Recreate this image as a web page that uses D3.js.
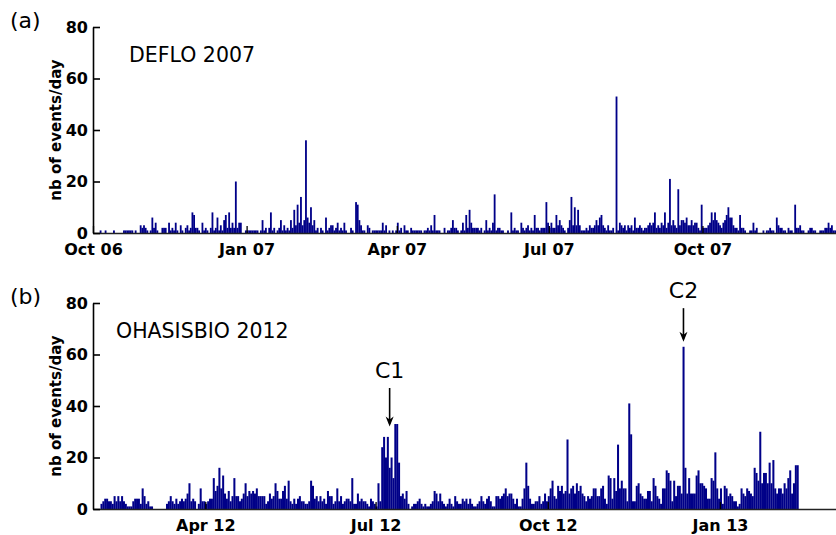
<!DOCTYPE html>
<html>
<head>
<meta charset="utf-8">
<script src="https://cdn.jsdelivr.net/npm/d3@7"></script>
<style>
  html, body { margin: 0; padding: 0; background: #fff; }
  svg { display: block; }
  .tick text { font-family: "DejaVu Sans", sans-serif; font-weight: bold; font-size: 16px; fill: #000; }
</style>
</head>
<body>
<svg id="chart" width="836" height="535"></svg>
<script>
// ---------------- data ----------------
const startA = "2006-10-01";
const endA = "2007-12-20";
const countsA = [
  0,0,0,0,1,0,0,1,0,0,
  0,0,1,0,0,0,0,0,1,1,
  1,1,1,1,0,1,0,0,3,2,
  3,2,1,0,1,6,2,4,1,0,
  0,2,2,2,0,4,1,2,1,4,
  1,0,3,1,0,2,3,1,2,8,
  7,2,2,1,0,4,1,2,1,0,
  2,8,1,2,6,1,3,1,5,7,
  2,8,2,4,2,20,2,4,4,0,
  0,1,1,1,1,1,1,1,1,0,
  1,5,1,2,0,2,8,1,2,0,
  1,2,5,1,3,1,2,1,5,2,
  9,3,11,4,14,3,5,36,6,4,
  10,3,5,1,2,0,2,1,0,6,
  1,2,3,3,1,2,4,1,2,1,
  4,1,0,0,2,1,0,12,11,5,
  3,1,1,0,3,2,0,1,1,1,
  1,1,1,4,1,3,0,1,0,1,
  0,1,4,1,2,0,3,1,1,0,
  2,1,1,1,1,1,1,0,1,1,
  2,1,3,1,7,1,1,1,0,0,
  2,0,1,1,2,5,2,2,1,0,
  1,4,1,7,2,9,4,2,2,2,
  2,1,2,0,1,5,1,2,1,4,
  15,1,2,2,1,1,0,0,1,0,
  8,1,2,1,1,0,4,2,1,2,
  3,1,2,1,7,2,2,1,2,2,
  2,12,4,2,4,2,2,7,3,5,
  3,2,1,0,2,5,14,3,10,3,
  9,3,1,1,1,2,1,3,2,2,
  3,5,3,6,7,3,2,1,3,1,
  1,2,0,53,1,4,3,2,3,1,
  3,2,3,1,6,2,2,3,2,1,
  2,2,3,4,3,4,8,2,3,2,
  4,3,8,2,4,21,3,5,3,2,
  17,3,5,5,4,6,3,3,5,3,
  4,4,2,1,11,2,2,2,3,4,
  8,5,8,5,4,3,2,4,5,7,
  10,6,6,3,2,2,1,7,2,2,
  1,0,0,1,1,4,1,2,0,0,
  0,1,0,1,1,2,1,1,0,6,
  3,2,2,1,1,0,2,1,1,0,
  11,2,2,3,1,1,0,0,1,2,
  2,1,1,0,0,1,1,1,2,2,
  4,2,3,1,1
];
const xTicksA = ["2006-10-01","2007-01-01","2007-04-01","2007-07-01","2007-10-01"];
const xLabelsA = ["Oct 06","Jan 07","Apr 07","Jul 07","Oct 07"];

const startB = "2012-02-01";
const endB = "2013-03-04";
const countsB = [
  0,0,0,0,2,3,4,4,3,3,
  2,5,3,5,3,5,3,2,1,1,
  1,3,4,4,4,2,8,5,2,3,
  1,1,0,0,0,0,0,0,0,2,
  3,5,3,2,4,2,3,4,3,4,
  6,10,3,4,3,0,2,8,3,3,
  2,3,4,4,12,7,9,16,8,13,
  6,4,7,3,5,12,5,5,3,4,
  6,10,5,7,6,7,6,8,5,5,
  5,5,2,3,6,4,5,10,7,4,
  4,7,9,4,11,3,2,4,2,4,
  5,3,3,2,2,3,11,9,4,5,
  3,5,3,4,2,7,5,5,2,3,
  8,3,5,2,3,4,4,3,12,2,
  2,6,3,4,3,3,2,1,4,3,
  2,1,10,3,24,28,20,28,16,20,
  12,33,33,18,5,6,4,7,2,0,
  1,2,2,3,4,2,1,2,1,1,
  2,3,7,6,3,6,3,2,1,2,
  4,2,1,5,3,2,2,4,3,4,
  2,4,2,1,1,2,3,5,3,2,
  4,5,3,1,1,5,5,4,5,6,
  8,5,6,6,4,2,4,1,1,4,
  8,18,9,4,2,2,3,3,5,2,
  3,6,3,5,8,11,5,4,9,7,
  9,6,7,27,6,8,9,6,10,7,
  9,6,5,3,5,4,5,8,8,5,
  5,8,9,4,2,13,12,4,12,7,
  25,8,11,8,8,3,41,29,3,3,
  9,10,6,5,4,4,7,7,3,12,
  9,5,4,2,8,8,15,14,11,3,
  11,5,9,9,6,63,16,6,12,6,
  6,6,13,15,10,10,9,8,4,4,
  12,11,22,8,4,8,2,9,8,5,
  6,5,3,3,1,2,8,6,5,8,
  7,6,5,16,14,11,30,10,14,14,
  10,18,10,19,8,6,8,8,6,10,
  8,12,15,6,10,17,17
];
const xTicksB = ["2012-04-01","2012-07-01","2012-10-01","2013-01-01"];
const xLabelsB = ["Apr 12","Jul 12","Oct 12","Jan 13"];

const yTicks = [0, 20, 40, 60, 80];
const yLabel = "nb of events/day";
const panelLetters = ["(a)", "(b)"];
const panelTitles = ["DEFLO 2007", "OHASISBIO 2012"];
// annotations for panel b: date of pointed event, arrow from value `from` to value `to`
const annoLabels = ["C1", "C2"];
const annoDates = ["2012-07-08T12:00:00Z", "2012-12-12T12:00:00Z"];
const annoFrom = [47, 78];
const annoTo = [32, 65];
const annoText = [51, 82];

// ---------------- drawing ----------------
const svg = d3.select("#chart");
const parse = d3.utcParse("%Y-%m-%d");
const barColor = "#000088";

function drawPanel(cfg) {
  const start = parse(cfg.start), end = parse(cfg.end);
  const x = d3.scaleUtc().domain([start, end]).range([cfg.left, cfg.right]);
  const y = d3.scaleLinear().domain([0, 80]).range([cfg.bottom, cfg.top]);
  const g = svg.append("g");

  const rows = cfg.counts.map((v, i) => ({ date: d3.utcDay.offset(start, i), v }));
  g.append("g").selectAll("rect").data(rows.filter(r => r.v > 0)).join("rect")
    .attr("x", d => x(d.date))
    .attr("width", d => x(d3.utcDay.offset(d.date, 1)) - x(d.date) + 0.15)
    .attr("y", d => y(d.v))
    .attr("height", d => y(0) - y(d.v))
    .attr("fill", barColor);

  // x axis
  const xa = g.append("g").attr("transform", `translate(0,${cfg.bottom})`)
    .call(d3.axisBottom(x)
      .tickValues(cfg.xTicks.map(parse))
      .tickFormat((d, i) => cfg.xLabels[i])
      .tickSizeInner(-7).tickSizeOuter(0).tickPadding(8));
  xa.select(".domain").attr("stroke", "#222").attr("stroke-width", 1.3);
  xa.selectAll(".tick line").attr("stroke", "#000").attr("stroke-width", 1.3);
  xa.selectAll(".tick text").attr("dy", "0.85em");

  // y axis
  const ya = g.append("g").attr("transform", `translate(${cfg.left},0)`)
    .call(d3.axisLeft(y).tickValues(yTicks).tickFormat(d3.format("d"))
      .tickSizeInner(-7).tickSizeOuter(0).tickPadding(5));
  ya.select(".domain").attr("stroke", "#000").attr("stroke-width", 1.6);
  ya.selectAll(".tick line").attr("stroke", "#000").attr("stroke-width", 1.6);

  // y label
  g.append("text")
    .attr("transform", `translate(${cfg.left - 32},${(cfg.top + cfg.bottom) / 2}) rotate(-90)`)
    .attr("text-anchor", "middle")
    .style("font-family", "DejaVu Sans, sans-serif").style("font-weight", "bold")
    .style("font-size", "15px")
    .text(yLabel);

  // panel letter
  g.append("text").attr("x", 10).attr("y", cfg.top + 1)
    .style("font-family", "DejaVu Sans, sans-serif").style("font-size", "22px")
    .text(cfg.letter);

  // title
  g.append("text").attr("x", cfg.titleX).attr("y", cfg.top + 35)
    .style("font-family", "DejaVu Sans, sans-serif").style("font-size", "20.5px")
    .text(cfg.title);

  return { x, y, g };
}

const pa = drawPanel({
  start: startA, end: endA, counts: countsA, xTicks: xTicksA, xLabels: xLabelsA,
  left: 93, right: 836, top: 27, bottom: 233,
  letter: panelLetters[0], title: panelTitles[0], titleX: 129
});
const pb = drawPanel({
  start: startB, end: endB, counts: countsB, xTicks: xTicksB, xLabels: xLabelsB,
  left: 93, right: 836, top: 303, bottom: 509,
  letter: panelLetters[1], title: panelTitles[1], titleX: 116
});

// annotations
annoLabels.forEach((lab, i) => {
  const xp = pb.x(new Date(annoDates[i]));
  const y1 = pb.y(annoFrom[i]), y2 = pb.y(annoTo[i]);
  pb.g.append("line").attr("x1", xp).attr("x2", xp).attr("y1", y1).attr("y2", y2 - 3)
    .attr("stroke", "#000").attr("stroke-width", 1.6);
  pb.g.append("path")
    .attr("d", `M${xp - 4},${y2 - 10} L${xp},${y2} L${xp + 4},${y2 - 10} L${xp},${y2 - 7} Z`)
    .attr("fill", "#000");
  pb.g.append("text").attr("x", xp).attr("y", pb.y(annoText[i]))
    .attr("text-anchor", "middle")
    .style("font-family", "DejaVu Sans, sans-serif").style("font-size", "22px")
    .text(lab);
});
</script>
</body>
</html>
